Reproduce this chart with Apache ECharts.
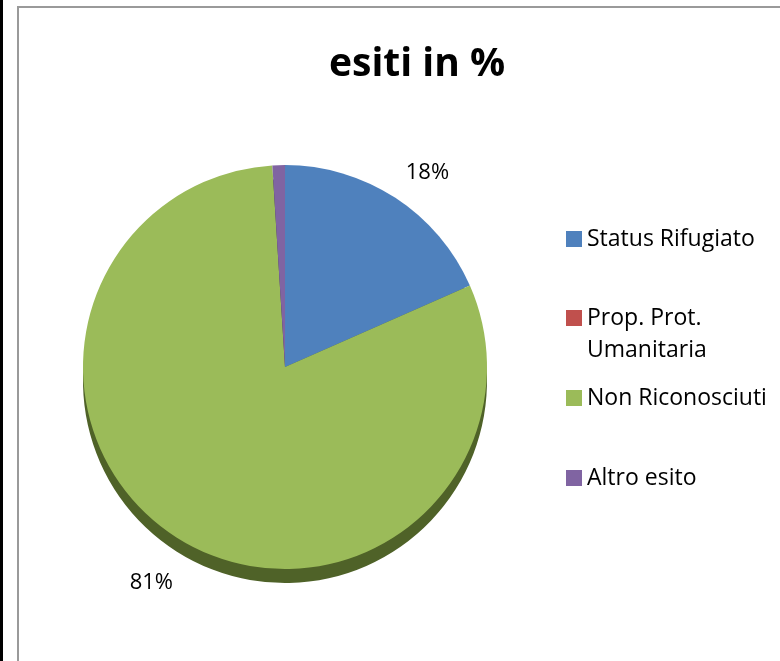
<!DOCTYPE html>
<html>
<head>
<meta charset="utf-8">
<script src="https://cdn.jsdelivr.net/npm/echarts@6/dist/echarts.min.js"></script>
<style>html,body{margin:0;padding:0;background:#fff}#c{width:780px;height:661px}</style>
</head>
<body>
<div id="c"></div>
<script>
const categories = ['Status Rifugiato', 'Prop. Prot. Umanitaria', 'Non Riconosciuti', 'Altro esito'];
const legendLabels = ['Status Rifugiato', '\nProp. Prot.\nUmanitaria', 'Non Riconosciuti', 'Altro esito'];
const values = [18.4, 0, 80.6, 1.0];
const showLabel = [true, false, true, false];
const colors = ['#4f81bd', '#c0504d', '#9bbb59', '#8064a2'];
const shadowColors = ['#2c4d75', '#772c2a', '#4f6228', '#3f3151'];
const labelLen = [30, 20, 50, 20];
const labelDist = [-6, 0, -19, 0];

const FONT = "'Open Sans', sans-serif";
const chart = echarts.init(document.getElementById('c'));

const faceData = categories.map((n, i) => ({
  name: n, value: values[i],
  itemStyle: { color: colors[i] },
  label: { show: showLabel[i], distanceToLabelLine: labelDist[i] },
  labelLine: { show: false, length: labelLen[i], length2: 0 }
}));
const shadowData = categories.map((n, i) => ({
  name: n, value: values[i], itemStyle: { color: shadowColors[i] }
}));

const legendTops = [223, 270, 382, 462];
const legends = categories.map((n, i) => ({
  orient: 'vertical', left: 566, top: legendTops[i], padding: 0,
  icon: 'rect', itemWidth: 16, itemHeight: 16,
  selectedMode: false,
  formatter: () => legendLabels[i],
  textStyle: { fontFamily: FONT, fontSize: 23, color: '#000', lineHeight: 32 },
  data: [n]
}));

chart.setOption({
  animation: false,
  backgroundColor: '#fff',
  title: {
    text: 'esiti in %', left: 412, top: 40, textAlign: 'center',
    textStyle: { fontFamily: FONT, fontSize: 39, fontWeight: 'bold', color: '#000' }
  },
  graphic: [
    { type: 'rect', shape: { x: 0, y: 0, width: 3, height: 661 }, style: { fill: '#000' } },
    { type: 'rect', shape: { x: 18, y: 7, width: 800, height: 700 }, style: { fill: 'none', stroke: '#9a9a9a', lineWidth: 2 } }
  ],
  legend: legends,
  series: [
    {
      type: 'pie', center: [285, 367], radius: 202,
      startAngle: 90, clockwise: true, avoidLabelOverlap: false,
      label: {
        position: 'outside', fontFamily: FONT, fontSize: 22, color: '#000',
        formatter: p => Math.round(p.percent) + '%'
      },
      emphasis: { scale: false },
      data: faceData, z: 2
    },
    {
      type: 'pie', silent: true, center: [285, 381], radius: 202,
      startAngle: 90, clockwise: true, avoidLabelOverlap: false,
      label: { show: false }, labelLine: { show: false },
      data: shadowData, z: 1
    }
  ]
});
</script>
</body>
</html>
